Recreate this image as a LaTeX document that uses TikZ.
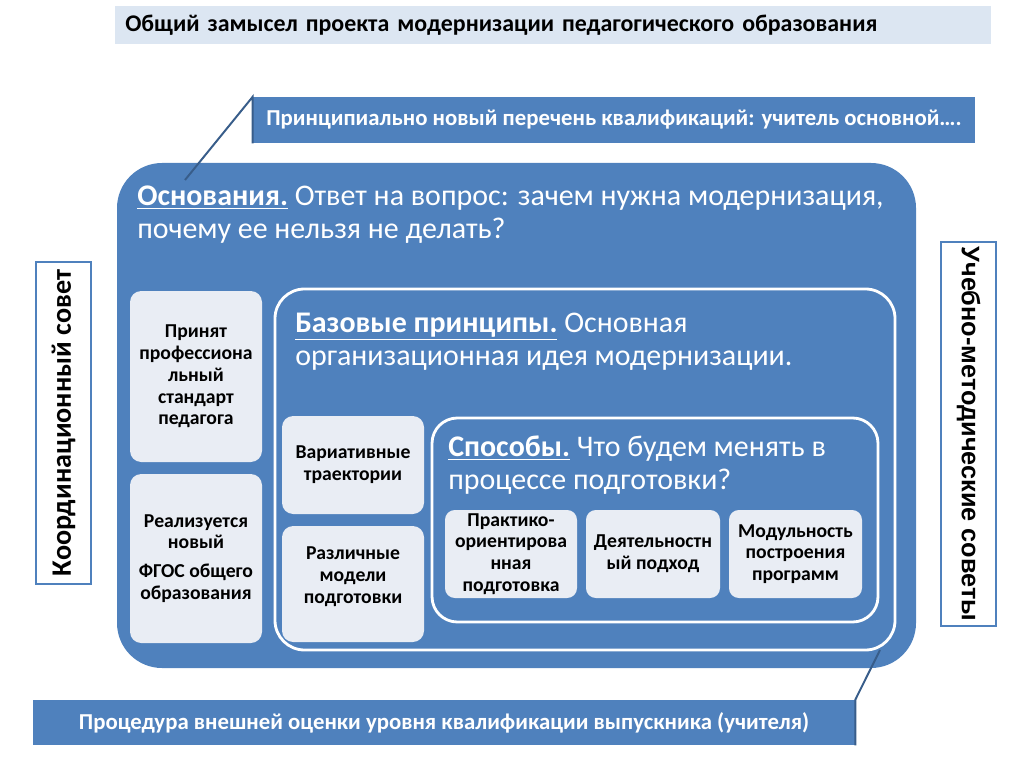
\documentclass[tikz,border=0pt]{standalone}
\usepackage{fontspec}
\setmainfont{Carlito}
\newfontfamily\arialfont{Liberation Sans}
\usetikzlibrary{fit}
\definecolor{mainblue}{HTML}{4F81BD}
\definecolor{cardfill}{HTML}{E9EDF4}
\definecolor{titlefill}{HTML}{DCE6F2}
\definecolor{linedark}{HTML}{385D8A}
\tikzset{
  titlebar/.style={fill=titlefill, inner sep=0pt, font=\bfseries\fontsize{17}{20}\selectfont},
  callout/.style={fill=mainblue, inner sep=0pt},
  callouttext/.style={text=white, font=\bfseries\fontsize{16.2}{19}\selectfont},
  mainbox/.style={fill=mainblue, rounded corners=32pt, inner sep=0pt},
  framebox/.style={draw=white, line width=2pt, inner sep=0pt},
  card/.style={fill=cardfill, rounded corners=8pt, inner sep=0pt},
  cardtext/.style={align=center, font=\bfseries\fontsize{14}{15.5}\selectfont},
  headtext/.style={anchor=north west, text=white, align=left, inner sep=0pt, font=\fontsize{21.3}{23}\selectfont},
  sidebox/.style={draw=mainblue, line width=1.5pt, fill=white, inner sep=0pt, minimum height=1.375cm},
  calline/.style={draw=linedark, line width=1.4pt},
}
\begin{document}
\begin{tikzpicture}[x=0.025cm, y=-0.025cm]
\useasboundingbox (0,0) rectangle (1024,767);

% title
\node[titlebar, anchor=north west, minimum width=21.875cm, minimum height=0.95cm,
  text width=21.375cm, inner xsep=0.25cm, align=left] (title) at (115,6)
  {Общий замысел проекта модернизации педагогического образования};

% main block
\node[mainbox, fit={(117,163) (916,668)}] (osn) {};
\node[headtext] (osnText) at (137,186)
  {\underline{\textbf{Основания.}} Ответ на вопрос: зачем нужна модернизация,\\почему ее нельзя не делать?};

\node[card, fit={(130,291) (262,462)}] (standart) {};
\node[cardtext] at (standart.center)
  {Принят\\профессиона\\льный\\стандарт\\педагога};
\node[card, fit={(130,474) (262,643)}] (fgos) {};
\node[cardtext] at (fgos.center)
  {Реализуется\\новый\\[5pt]ФГОС общего\\образования};

% basic principles
\node[framebox, rounded corners=21pt, fit={(275,289) (895,650)}] (baz) {};
\node[headtext] (bazText) at (295,313)
  {\underline{\textbf{Базовые принципы.}} Основная\\организационная идея модернизации.};

\node[card, fit={(282,416) (424,514)}] (var) {};
\node[cardtext] at (var.center)
  {Вариативные\\траектории};
\node[card, fit={(282,526) (424,642)}] (model) {};
\node[cardtext] at ([yshift=5pt]model.center)
  {Различные\\модели\\подготовки};

% ways
\node[framebox, rounded corners=18pt, fit={(432,418) (878,622)}] (sposob) {};
\node[headtext] (sposText) at (448,436)
  {\underline{\textbf{Способы.}} Что будем менять в\\процессе подготовки?};

\node[card, rounded corners=7pt, fit={(445,510) (577,598)}] (prakt) {};
\node[cardtext] at (prakt.center)
  {Практико-\\ориентирова\\нная\\подготовка};
\node[card, rounded corners=7pt, fit={(586,510) (720,598)}] (deyat) {};
\node[cardtext] at (deyat.center)
  {Деятельностн\\ый подход};
\node[card, rounded corners=7pt, fit={(729,510) (862,598)}] (modul) {};
\node[cardtext] at (modul.center)
  {Модульность\\построения\\программ};

% side boxes
\node[sidebox, rotate=90, minimum width=8.05cm, font=\bfseries\fontsize{20}{24}\selectfont] (koord) at (63.5,423)
  {Координационный совет};
\node[sidebox, rotate=-90, minimum width=9.6cm, font=\arialfont\bfseries\fontsize{18}{21}\selectfont] (umo) at (968.5,434)
  {Учебно-методические советы};

% callouts
\node[callout, fit={(253,97) (975,143)}] (perechen) {};
\node[callouttext] at (perechen.center)
  {Принципиально новый перечень квалификаций: учитель основной….};
\coordinate (tipA) at (185,180);
\draw[calline] (perechen.south west) -- (perechen.north west) -- (tipA);

\node[callout, fit={(33,700) (855,745)}] (ocenka) {};
\node[callouttext] at (ocenka.center)
  {Процедура внешней оценки уровня квалификации выпускника (учителя)};
\coordinate (tipB) at (880,650);
\draw[calline] (ocenka.south east) -- (ocenka.north east) -- (tipB);
\end{tikzpicture}
\end{document}
